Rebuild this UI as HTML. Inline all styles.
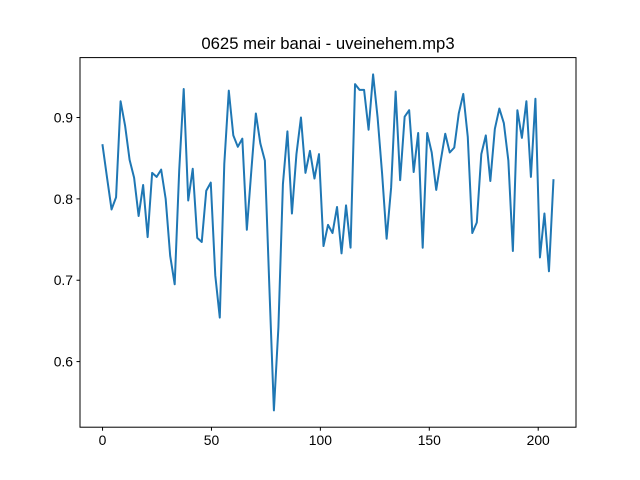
<!DOCTYPE html>
<html><head><meta charset="utf-8"><style>
html,body{margin:0;padding:0;background:#fff;}
svg{display:block;font-family:"Liberation Sans","DejaVu Sans",sans-serif;}
</style></head><body>
<svg id="chart" width="640" height="480" viewBox="0 0 640 480">
<rect width="640" height="480" fill="#fff"/>
<text x="328" y="49" text-anchor="middle" font-size="16.7" fill="#000">0625 meir banai - uveinehem.mp3</text>
<g id="xticks"></g>
<g id="yticks"></g>
<path id="line" fill="none" stroke="#1f77b4" stroke-width="2" stroke-linejoin="round" stroke-linecap="square"/>
<rect x="80" y="57.6" width="496" height="369.6" fill="none" stroke="#000" stroke-width="1"/>
</svg>
<script>
const values = [0.866,0.826,0.787,0.802,0.920,0.890,0.848,0.826,0.779,0.817,0.753,0.832,0.827,0.836,0.800,0.730,0.695,0.835,0.935,0.798,0.837,0.752,0.747,0.810,0.820,0.706,0.654,0.843,0.933,0.878,0.864,0.874,0.762,0.835,0.905,0.868,0.847,0.691,0.540,0.642,0.818,0.883,0.782,0.855,0.900,0.832,0.859,0.825,0.855,0.742,0.768,0.758,0.790,0.733,0.792,0.740,0.941,0.934,0.934,0.885,0.953,0.900,0.831,0.751,0.814,0.932,0.823,0.901,0.909,0.833,0.881,0.740,0.881,0.857,0.811,0.847,0.880,0.857,0.863,0.905,0.929,0.876,0.758,0.771,0.855,0.878,0.822,0.886,0.911,0.893,0.847,0.736,0.909,0.875,0.920,0.827,0.923,0.728,0.782,0.711,0.823];
const xStep = 2.07;
const xTicks = [0,50,100,150,200];
const yTicks = [0.6,0.7,0.8,0.9];
const yTickLabels = ["0.6","0.7","0.8","0.9"];

const L=80,R=576,T=57.6,B=427.2;
const xs = values.map((v,i)=>i*xStep);
const xmin0=Math.min(...xs), xmax0=Math.max(...xs);
const ymin0=Math.min(...values), ymax0=Math.max(...values);
const xm=(xmax0-xmin0)*0.05, ym=(ymax0-ymin0)*0.05;
const xmin=xmin0-xm, xmax=xmax0+xm, ymin=ymin0-ym, ymax=ymax0+ym;
const sx=v=>L+(v-xmin)/(xmax-xmin)*(R-L);
const sy=v=>B-(v-ymin)/(ymax-ymin)*(B-T);
const NS="http://www.w3.org/2000/svg";
const line=document.getElementById('line');
line.setAttribute('d', values.map((v,i)=>(i?'L':'M')+sx(xs[i]).toFixed(2)+','+sy(v).toFixed(2)).join(''));
const gx=document.getElementById('xticks');
xTicks.forEach(t=>{
  const x=sx(t);
  const l=document.createElementNS(NS,'line');
  l.setAttribute('x1',x);l.setAttribute('x2',x);l.setAttribute('y1',B);l.setAttribute('y2',B+3.5);
  l.setAttribute('stroke','#000');
  
  
  gx.appendChild(l);
  const tx=document.createElementNS(NS,'text');
  tx.setAttribute('x',x);tx.setAttribute('y',B+18);tx.setAttribute('text-anchor','middle');tx.setAttribute('font-size','13.9');
  tx.textContent=String(t);
  
  
  gx.appendChild(tx);
});
const gy=document.getElementById('yticks');
yTicks.forEach((t,i)=>{
  const y=sy(t);
  const l=document.createElementNS(NS,'line');
  l.setAttribute('x1',L-3.5);l.setAttribute('x2',L);l.setAttribute('y1',y);l.setAttribute('y2',y);
  l.setAttribute('stroke','#000');
  
  
  gy.appendChild(l);
  const tx=document.createElementNS(NS,'text');
  tx.setAttribute('x',L-7);tx.setAttribute('y',y+5);tx.setAttribute('text-anchor','end');tx.setAttribute('font-size','13.9');
  tx.textContent=yTickLabels[i];
  
  
  gy.appendChild(tx);
});
</script>
</body></html>
